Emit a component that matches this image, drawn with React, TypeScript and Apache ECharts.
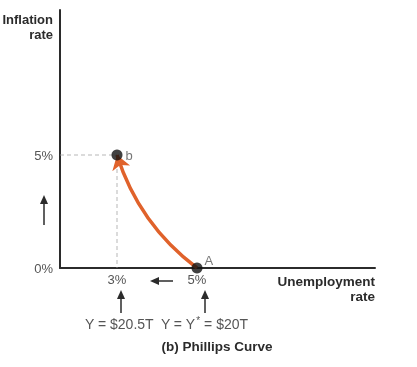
import React, { useEffect, useRef } from "react";
import * as echarts from "echarts";

const xTickValues = [3, 5];
const yTickValues = [0, 5];
const xRange = [1.575, 9.45];
const yRange = [0, 11.42];
const pointA = [5, 0];
const pointB = [3, 5];
const pointLabels = ["A", "b"];
const curveCurveness = 0.16;

const ORANGE = "#E0622B";
const DARK = "#2b2b2b";
const GRAY = "#555";
const FONT = "Liberation Sans";

function arrowUp(x: number, tipY: number, baseY: number) {
  return [
    { type: "line", shape: { x1: x, y1: tipY + 6, x2: x, y2: baseY }, style: { stroke: DARK, lineWidth: 1.5 } },
    { type: "polygon", shape: { points: [[x, tipY], [x - 4, tipY + 9], [x + 4, tipY + 9]] }, style: { fill: DARK } },
  ];
}
function arrowLeft(y: number, tipX: number, baseX: number) {
  return [
    { type: "line", shape: { x1: tipX + 6, y1: y, x2: baseX, y2: y }, style: { stroke: DARK, lineWidth: 1.5 } },
    { type: "polygon", shape: { points: [[tipX, y], [tipX + 9, y - 4], [tipX + 9, y + 4]] }, style: { fill: DARK } },
  ];
}

export default function App() {
  const ref = useRef<HTMLDivElement>(null);
  useEffect(() => {
    if (!ref.current) return;
    const chart = echarts.init(ref.current, null, { renderer: "svg" });
    chart.setOption({
      animation: false,
      textStyle: { fontFamily: FONT },
      grid: { left: 60, right: 42, top: 10, bottom: 99 },
      xAxis: {
        type: "value",
        min: xRange[0],
        max: xRange[1],
        splitLine: { show: false },
        axisTick: { show: false },
        axisLine: { lineStyle: { color: DARK, width: 2 } },
        axisLabel: {
          customValues: xTickValues,
          formatter: (v: number) => v + "%",
          color: GRAY,
          fontSize: 13,
          margin: 5,
          fontFamily: FONT,
        },
      },
      yAxis: {
        type: "value",
        min: yRange[0],
        max: yRange[1],
        splitLine: { show: false },
        axisTick: { show: false },
        axisLine: { show: true, lineStyle: { color: DARK, width: 2 } },
        axisLabel: {
          customValues: yTickValues,
          formatter: (v: number) => v + "%",
          color: GRAY,
          fontSize: 13,
          margin: 7,
          fontFamily: FONT,
        },
      },
      series: [
        {
          type: "lines",
          coordinateSystem: "cartesian2d",
          silent: true,
          z: 1,
          lineStyle: { color: "#a0a0a0", width: 1.5, type: [4, 3] },
          data: [
            { coords: [[xRange[0], pointB[1]], pointB] },
            { coords: [pointB, [pointB[0], yRange[0]]] },
          ],
        },
        {
          type: "lines",
          coordinateSystem: "cartesian2d",
          silent: true,
          z: 2,
          symbol: ["none", "arrow"],
          symbolSize: 14,
          lineStyle: { color: ORANGE, width: 3.5, curveness: curveCurveness, opacity: 1 },
          data: [{ coords: [pointA, pointB] }],
        },
        {
          type: "scatter",
          z: 3,
          symbolSize: 11,
          itemStyle: { color: "#111" },
          label: { show: true, color: GRAY, fontSize: 13, fontFamily: FONT },
          data: [
            { value: pointA, name: pointLabels[0], label: { formatter: pointLabels[0], position: [13, -9] } },
            { value: pointB, name: pointLabels[1], label: { formatter: pointLabels[1], position: "right", distance: 3 } },
          ],
        },
      ],
      graphic: [
        {
          type: "text",
          x: 53,
          y: 12,
          style: {
            text: "Inflation\nrate",
            align: "right",
            fill: DARK,
            font: `bold 13px "${FONT}"`,
            lineHeight: 15,
          },
        },
        {
          type: "text",
          x: 375,
          y: 274,
          style: {
            text: "Unemployment\nrate",
            align: "right",
            fill: DARK,
            font: `bold 13.5px "${FONT}"`,
            lineHeight: 15,
          },
        },
        {
          type: "text",
          x: 85,
          y: 315,
          style: {
            text: "Y = $20.5T  Y = Y{sup|*} = $20T",
            fill: GRAY,
            fontSize: 14,
            fontFamily: FONT,
            rich: { sup: { fontSize: 10, fill: GRAY, verticalAlign: "top", padding: [0, 0, 7, 0] } },
          },
        },
        {
          type: "text",
          x: 217,
          y: 339,
          style: {
            text: "(b) Phillips Curve",
            align: "center",
            fill: DARK,
            font: `bold 13.5px "${FONT}"`,
          },
        },
        ...arrowUp(44, 195, 225),
        ...arrowLeft(281, 150, 173),
        ...arrowUp(121, 290, 313),
        ...arrowUp(205, 290, 313),
      ],
    });
    return () => chart.dispose();
  }, []);
  return <div ref={ref} style={{ position: "fixed", left: 0, top: 0, width: 417, height: 367 }} />;
}
